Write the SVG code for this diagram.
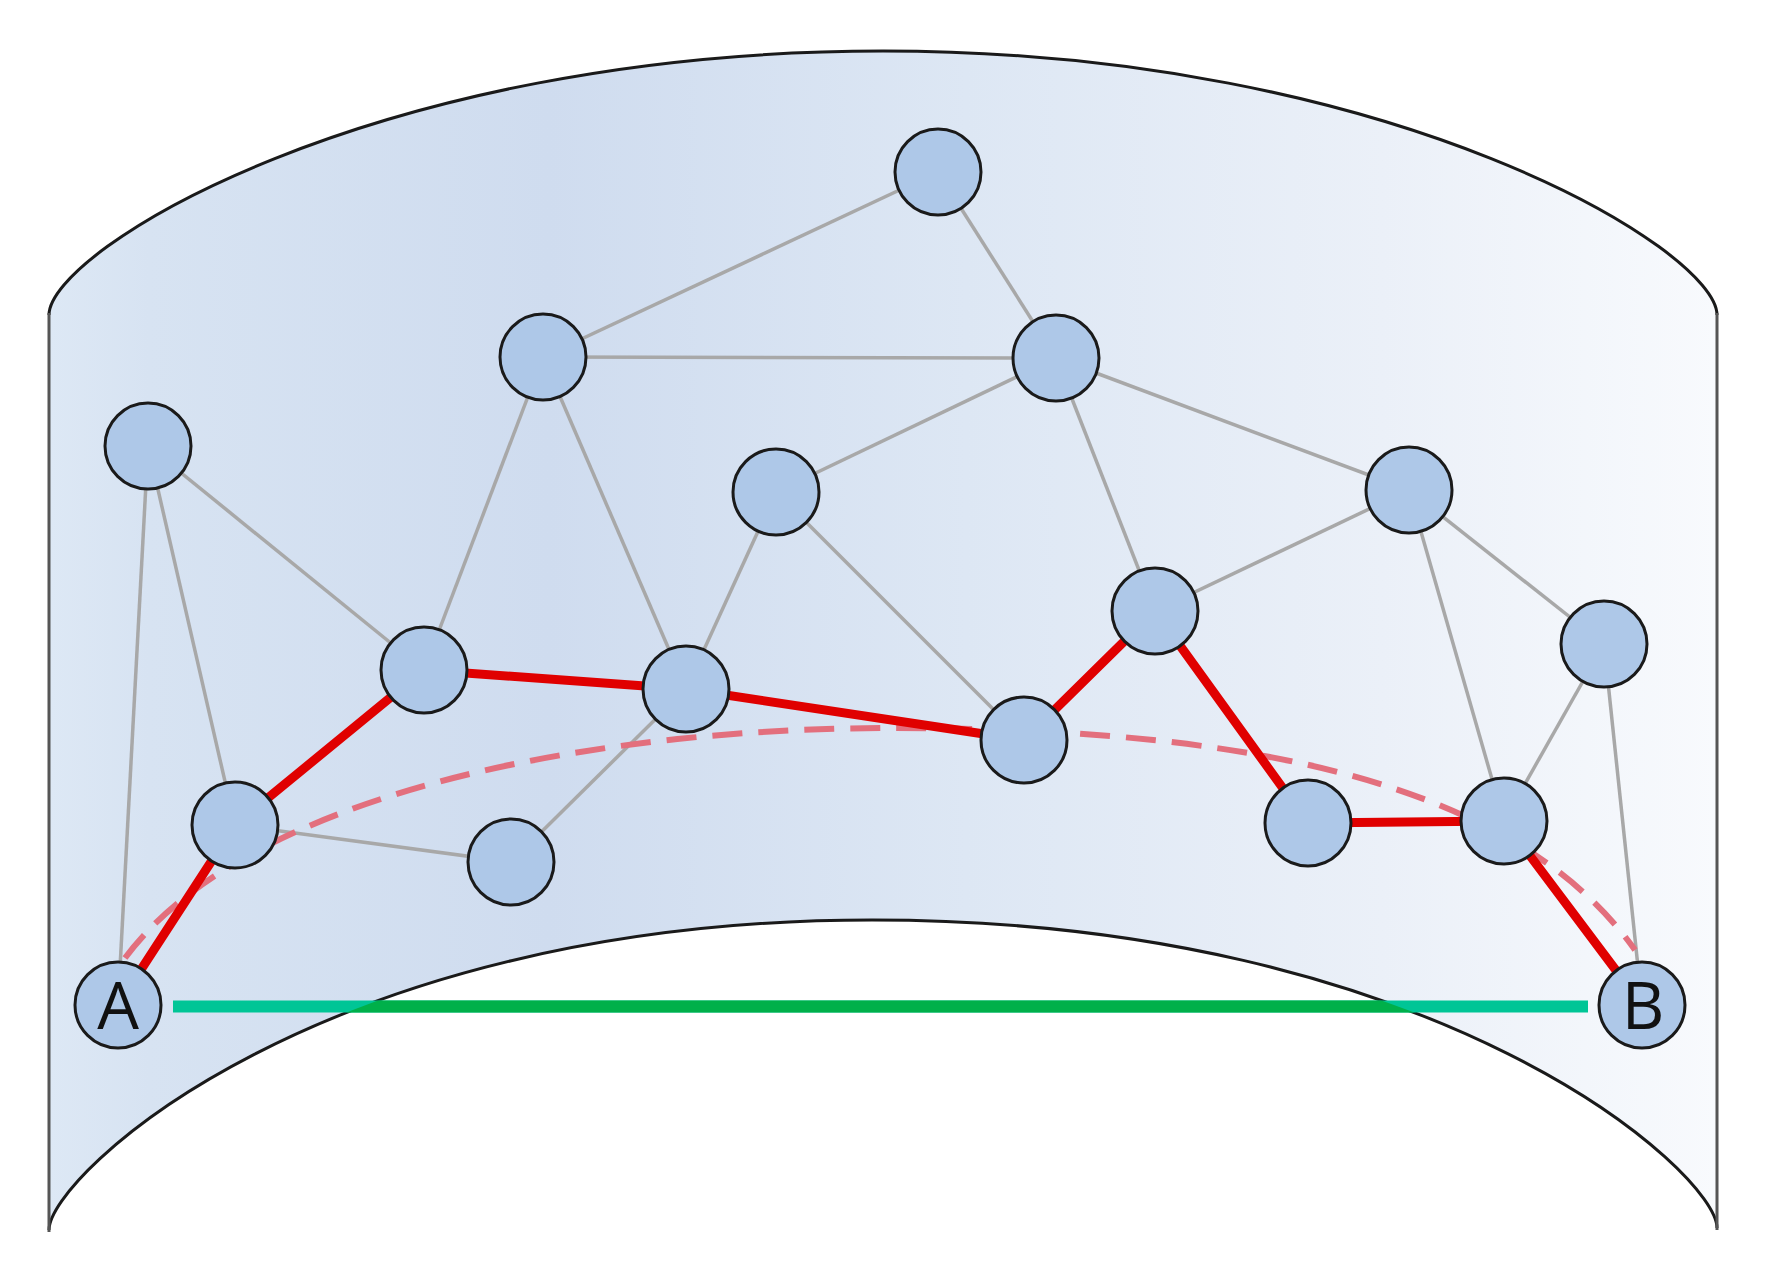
<svg xmlns="http://www.w3.org/2000/svg" width="1765" height="1264" viewBox="0 0 1765 1264">
  <defs>
    <linearGradient id="surf" gradientUnits="userSpaceOnUse" x1="49" y1="0" x2="1717" y2="0">
      <stop offset="0" stop-color="#dde8f5"/>
      <stop offset="0.06" stop-color="#d7e3f2"/>
      <stop offset="0.3" stop-color="#cfdcef"/>
      <stop offset="0.55" stop-color="#dde7f4"/>
      <stop offset="0.8" stop-color="#ebf0f8"/>
      <stop offset="1" stop-color="#f8fafd"/>
    </linearGradient>
    <clipPath id="inner">
      <path d="M49,1230 C49,1175 322,920 872,920 C1439,920 1717,1173 1717,1228 L1717,1264 L49,1264 Z"/>
    </clipPath>
    <style>
      .edge { stroke: #a8a8a8; stroke-width: 3.5; fill: none; }
      .path { stroke: #e00000; stroke-width: 9; fill: none; stroke-linecap: round; stroke-linejoin: round; }
      .node { fill: #aec8e8; stroke: #1a1a1a; stroke-width: 3; }
      .label { font-family: "Open Sans", "Liberation Sans", sans-serif; font-size: 66px; fill: #111; text-anchor: middle; }
    </style>
  </defs>

  <g id="surface">
    <path d="M49,315 C49,250 373,51 883,51 C1393,51 1717,250 1717,315 L1717,1228 C1717,1173 1439,920 872,920 C322,920 49,1175 49,1230 Z" fill="url(#surf)"/>
    <path d="M49,315 C49,250 373,51 883,51 C1393,51 1717,250 1717,315" fill="none" stroke="#1a1a1a" stroke-width="3"/>
    <path d="M1717,1228 C1717,1173 1439,920 872,920 C322,920 49,1175 49,1230" fill="none" stroke="#1a1a1a" stroke-width="3"/>
    <line x1="49" y1="313" x2="49" y2="1232" stroke="#555" stroke-width="3"/>
    <line x1="1717" y1="313" x2="1717" y2="1230" stroke="#555" stroke-width="3"/>
  </g>

  <g id="connectors">
    <g id="gray-edges">
      <line class="edge" x1="938" y1="172" x2="543" y2="357"/>
      <line class="edge" x1="938" y1="172" x2="1056" y2="358"/>
      <line class="edge" x1="543" y1="357" x2="1056" y2="358"/>
      <line class="edge" x1="543" y1="357" x2="424" y2="670"/>
      <line class="edge" x1="543" y1="357" x2="686" y2="689"/>
      <line class="edge" x1="1056" y1="358" x2="776" y2="492"/>
      <line class="edge" x1="1056" y1="358" x2="1409" y2="490"/>
      <line class="edge" x1="1056" y1="358" x2="1155" y2="611"/>
      <line class="edge" x1="148" y1="446" x2="424" y2="670"/>
      <line class="edge" x1="148" y1="446" x2="235" y2="825"/>
      <line class="edge" x1="148" y1="446" x2="118" y2="1005"/>
      <line class="edge" x1="776" y1="492" x2="686" y2="689"/>
      <line class="edge" x1="776" y1="492" x2="1024" y2="740"/>
      <line class="edge" x1="686" y1="689" x2="511" y2="862"/>
      <line class="edge" x1="235" y1="825" x2="511" y2="862"/>
      <line class="edge" x1="1409" y1="490" x2="1155" y2="611"/>
      <line class="edge" x1="1409" y1="490" x2="1504" y2="821"/>
      <line class="edge" x1="1409" y1="490" x2="1604" y2="644"/>
      <line class="edge" x1="1604" y1="644" x2="1504" y2="821"/>
      <line class="edge" x1="1604" y1="644" x2="1642" y2="1005"/>
    </g>
    <path id="geodesic" d="M125,958 C250,790 600,728 890,728 C1180,728 1500,760 1635,950" fill="none" stroke="#e36f7d" stroke-width="6" stroke-dasharray="30 16"/>
    <polyline id="shortest-path" class="path" points="118,1005 235,825 424,670 686,689 1024,740 1155,611 1308,823 1504,821 1642,1005"/>
    <g id="straight-line">
      <line x1="173" y1="1006.5" x2="1588" y2="1006.5" stroke="#00c596" stroke-width="12"/>
      <line x1="173" y1="1006.5" x2="1588" y2="1006.5" stroke="#00b04a" stroke-width="12" clip-path="url(#inner)"/>
    </g>
  </g>

  <g id="n1"><circle class="node" cx="938" cy="172" r="43"/></g>
  <g id="n2"><circle class="node" cx="543" cy="357" r="43"/></g>
  <g id="n3"><circle class="node" cx="1056" cy="358" r="43"/></g>
  <g id="n4"><circle class="node" cx="148" cy="446" r="43"/></g>
  <g id="n5"><circle class="node" cx="776" cy="492" r="43"/></g>
  <g id="n6"><circle class="node" cx="1409" cy="490" r="43"/></g>
  <g id="n7"><circle class="node" cx="1155" cy="611" r="43"/></g>
  <g id="n8"><circle class="node" cx="1604" cy="644" r="43"/></g>
  <g id="n9"><circle class="node" cx="424" cy="670" r="43"/></g>
  <g id="n10"><circle class="node" cx="686" cy="689" r="43"/></g>
  <g id="n11"><circle class="node" cx="1024" cy="740" r="43"/></g>
  <g id="n12"><circle class="node" cx="235" cy="825" r="43"/></g>
  <g id="n13"><circle class="node" cx="511" cy="862" r="43"/></g>
  <g id="n14"><circle class="node" cx="1308" cy="823" r="43"/></g>
  <g id="n15"><circle class="node" cx="1504" cy="821" r="43"/></g>
  <g id="nA"><circle class="node" cx="118" cy="1005" r="43"/><text class="label" x="118" y="1029">A</text></g>
  <g id="nB"><circle class="node" cx="1642" cy="1005" r="43"/><text class="label" x="1643" y="1029">B</text></g>
</svg>
